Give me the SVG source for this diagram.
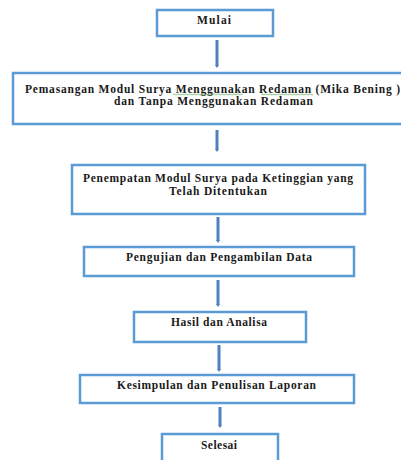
<svg xmlns="http://www.w3.org/2000/svg" width="401" height="460" viewBox="0 0 401 460">
<defs>
<style>
.box{fill:#ffffff;stroke:#5b9bd5;stroke-width:2.5}
.t{font-family:"Liberation Serif","Times New Roman",serif;font-weight:bold;font-size:11.5px;fill:#1a1a1a;text-anchor:middle}
.c{stroke:#4f81bd;stroke-width:3;fill:none;marker-end:url(#ah)}
</style>
<marker id="ah" viewBox="0 0 4 4" refX="1" refY="2" markerWidth="4" markerHeight="4" markerUnits="userSpaceOnUse" orient="auto">
<path d="M0,0 L3,2 L0,4 z" fill="#4f81bd"/>
</marker>
</defs>
<rect width="401" height="460" fill="#ffffff"/>
<g id="connectors">
<line class="c" x1="217" y1="40" x2="217" y2="66"/>
<line class="c" x1="217" y1="130" x2="217" y2="150"/>
<line class="c" x1="218" y1="217" x2="218" y2="241"/>
<line class="c" x1="218" y1="280" x2="218" y2="305"/>
<line class="c" x1="219" y1="345" x2="219" y2="370"/>
<line class="c" x1="220" y1="407" x2="220" y2="426"/>
</g>
<g id="n1">
<rect class="box" x="157" y="10" width="116" height="26"/>
<text class="t" x="214" y="24" textLength="34" lengthAdjust="spacing">Mulai</text>
</g>
<g id="n2">
<rect class="box" x="13" y="73" width="400" height="51"/>
<text class="t" x="212.5" y="92.5" textLength="375" lengthAdjust="spacing">Pemasangan Modul Surya Menggunakan  Redaman (Mika Bening )</text>
<text class="t" x="213.5" y="104.5" textLength="199" lengthAdjust="spacing">dan Tanpa Menggunakan Redaman</text>
<path d="M173,94.5 q1,-1 2,0 t2,0 t2,0 t2,0 t2,0 t2,0 t2,0 t2,0 t2,0 t2,0 t2,0 t2,0 t2,0 t2,0 t2,0 t2,0 t2,0 t2,0 t2,0 t2,0 t2,0 t2,0 t2,0 t2,0 t2,0 t2,0 t2,0 t2,0 t2,0 t2,0 t2,0 t2,0 t2,0 t2,0 t2,0 M261,94.5 q1,-1 2,0 t2,0 t2,0 t2,0 t2,0 t2,0 t2,0 t2,0 t2,0 t2,0 t2,0 t2,0 t2,0 t2,0 t2,0 t2,0 t2,0 t2,0 t2,0 t2,0 t2,0 t2,0 t2,0 t2,0 t2,0 t2,0" fill="none" stroke="#6fb56f" stroke-width="0.8"/>
</g>
<g id="n3">
<rect class="box" x="72" y="165" width="293" height="49"/>
<text class="t" x="218" y="182" textLength="270" lengthAdjust="spacing">Penempatan Modul Surya pada Ketinggian yang</text>
<text class="t" x="218" y="195" textLength="98" lengthAdjust="spacing">Telah Ditentukan</text>
</g>
<g id="n4">
<rect class="box" x="84" y="247" width="270" height="29"/>
<text class="t" x="219" y="261" textLength="186" lengthAdjust="spacing">Pengujian dan Pengambilan Data</text>
</g>
<g id="n5">
<rect class="box" x="134" y="312" width="172" height="30"/>
<text class="t" x="219" y="326" textLength="96" lengthAdjust="spacing">Hasil dan Analisa</text>
</g>
<g id="n6">
<rect class="box" x="80" y="375" width="274" height="28"/>
<text class="t" x="216.5" y="389" textLength="199" lengthAdjust="spacing">Kesimpulan dan Penulisan Laporan</text>
</g>
<g id="n7">
<rect class="box" x="162" y="434" width="116" height="40"/>
<text class="t" x="219" y="449" textLength="36" lengthAdjust="spacing">Selesai</text>
</g>
</svg>
